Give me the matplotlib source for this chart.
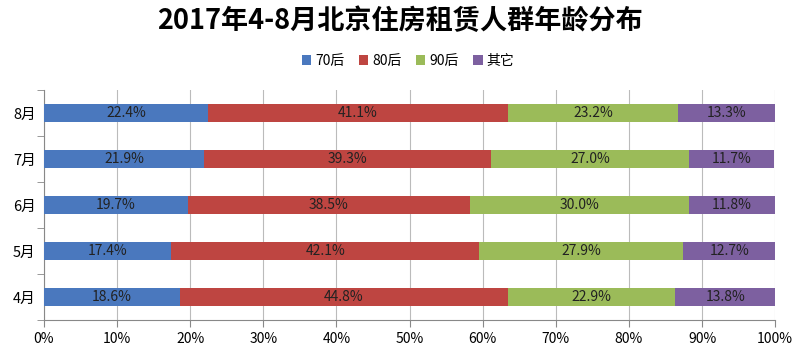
import matplotlib.pyplot as plt
import numpy as np

plt.rcParams['font.family'] = ['Noto Sans CJK SC', 'DejaVu Sans']

months = ['4月', '5月', '6月', '7月', '8月']
groups = ['70后', '80后', '90后', '其它']
v70 = [18.6, 17.4, 19.7, 21.9, 22.4]
v80 = [44.8, 42.1, 38.5, 39.3, 41.1]
v90 = [22.9, 27.9, 30.0, 27.0, 23.2]
other = [13.8, 12.7, 11.8, 11.7, 13.3]
colors = ['#4A78BE', '#BE4541', '#9BBB59', '#7D60A0']

fig = plt.figure(figsize=(8, 3.49), dpi=100)
ax = fig.add_axes([0.055, 0.083, 0.914, 0.659])

y = np.arange(len(months))
left = np.zeros(len(months))
for name, vals, c in zip(groups, [v70, v80, v90, other], colors):
    vals = np.array(vals)
    ax.barh(y, vals, left=left, height=0.39, color=c, label=name, zorder=3)
    for yi, l, v in zip(y, left, vals):
        ax.text(l + v / 2, yi, f'{v:.1f}%', ha='center', va='center',
                fontsize=10, color='#222222', zorder=4)
    left += vals

ax.set_xlim(0, 100)
ax.set_ylim(-0.5, 4.5)
ax.set_xticks(np.arange(0, 101, 10))
ax.set_xticklabels([f'{t}%' for t in range(0, 101, 10)], fontsize=10)
ax.set_yticks(y)
ax.set_yticklabels(months, fontsize=10.5)
ax.set_yticks(np.arange(-0.5, 4.6, 1), minor=True)
ax.tick_params(axis='y', which='major', length=0, pad=6)
ax.tick_params(axis='y', which='minor', length=5, color='#888888')
ax.tick_params(axis='x', length=5, color='#888888', direction='out')
ax.grid(axis='x', color='#BBBBBB', linewidth=0.8, zorder=0)
for s in ['top', 'right']:
    ax.spines[s].set_visible(False)
ax.spines['left'].set_color('#888888')
ax.spines['bottom'].set_color('#888888')

fig.text(0.5, 0.94, '2017年4-8月北京住房租赁人群年龄分布', ha='center', va='center',
         fontsize=19.5, fontweight='bold')
fig.legend(loc='center', bbox_to_anchor=(0.51, 0.825), ncol=4, frameon=False,
           fontsize=10, handlelength=0.7, handleheight=0.7, handletextpad=0.3,
           columnspacing=1.0)

fig.savefig('out.png', dpi=100)
